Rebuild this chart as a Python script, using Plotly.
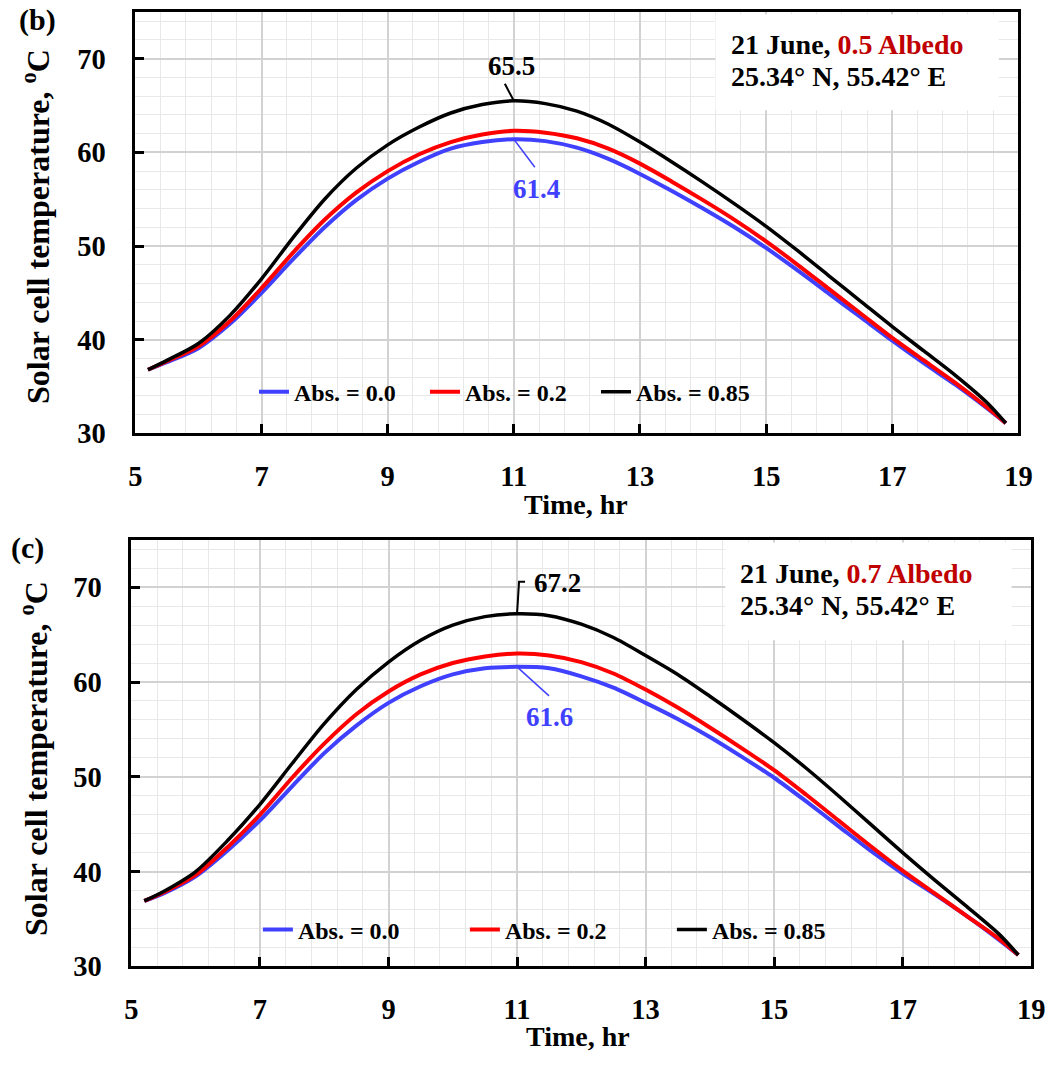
import plotly.graph_objects as go

# ---------------- data ----------------
time_hr = [5.2, 5.5, 6, 6.5, 7, 7.5, 8, 8.5, 9, 9.5, 10, 10.5, 11, 11.5, 12,
           12.5, 13, 13.5, 14, 14.5, 15, 15.5, 16, 16.5, 17, 17.5, 18, 18.5, 18.8]

# (b) 0.5 albedo
b_abs000 = [36.8, 37.6, 39.1, 41.7, 45.0, 48.6, 52.0, 54.9, 57.2, 59.0, 60.4, 61.1, 61.4, 61.2, 60.5,
            59.3, 57.7, 55.9, 54.0, 52.0, 49.8, 47.4, 44.9, 42.4, 39.9, 37.5, 35.2, 32.7, 31.1]
b_abs020 = [36.8, 37.7, 39.3, 42.0, 45.5, 49.3, 52.8, 55.7, 58.0, 59.8, 61.1, 61.9, 62.3, 62.1, 61.5,
            60.4, 58.8, 56.9, 54.9, 52.8, 50.5, 48.0, 45.4, 42.8, 40.2, 37.8, 35.4, 32.8, 31.1]
b_abs085 = [36.8, 37.8, 39.6, 42.6, 46.5, 50.9, 55.0, 58.3, 60.8, 62.7, 64.2, 65.1, 65.5, 65.2, 64.4,
            63.0, 61.1, 59.0, 56.8, 54.5, 52.1, 49.5, 46.8, 44.1, 41.4, 38.8, 36.2, 33.3, 31.1]

# (c) 0.7 albedo
c_abs000 = [36.9, 37.7, 39.5, 42.25, 45.4, 49.0, 52.5, 55.4, 57.8, 59.55, 60.8, 61.45, 61.6, 61.45, 60.6,
            59.4, 57.8, 56.1, 54.2, 52.1, 49.9, 47.4, 44.8, 42.2, 39.8, 37.6, 35.3, 32.8, 31.2]
c_abs020 = [36.9, 37.8, 39.65, 42.6, 46.0, 49.9, 53.5, 56.6, 59.0, 60.8, 62.0, 62.7, 63.0, 62.8, 62.1,
            60.9, 59.2, 57.3, 55.2, 53.0, 50.7, 48.1, 45.4, 42.7, 40.1, 37.7, 35.3, 32.9, 31.2]
c_abs085 = [36.9, 37.9, 40.0, 43.3, 47.1, 51.4, 55.6, 59.2, 62.1, 64.4, 66.0, 66.9, 67.2, 67.0, 66.1,
            64.7, 62.8, 60.8, 58.5, 56.1, 53.6, 50.9, 48.0, 45.0, 42.0, 39.1, 36.3, 33.4, 31.2]

series_names = ["Abs. = 0.0", "Abs. = 0.2", "Abs. = 0.85"]
series_colors = ["#4040FF", "#FF0000", "#000000"]
series_widths = [4, 4, 3.5]

x_ticks = [5, 7, 9, 11, 13, 15, 17, 19]
y_ticks = [30, 40, 50, 60, 70]

# ---------------- layout helpers ----------------
W, H = 1053, 1072
FONT = "Liberation Serif"


def px_x(p):
    return p / W


def px_y(p):
    return 1 - p / H


top_dom_x = [px_x(131), px_x(1032)]
top_dom_y = [px_y(440), px_y(12)]
bot_dom_x = [px_x(127), px_x(1045)]
bot_dom_y = [px_y(981), px_y(548)]

fig = go.Figure()

panels = [
    ("x", "y", "legend", [b_abs000, b_abs020, b_abs085]),
    ("x2", "y2", "legend2", [c_abs000, c_abs020, c_abs085]),
]
for xa, ya, lg, data in panels:
    for name, col, lw, vals in zip(series_names, series_colors, series_widths, data):
        fig.add_trace(go.Scatter(
            x=time_hr, y=vals, mode="lines", name=name,
            line=dict(color=col, width=lw, shape="spline", smoothing=0.8),
            xaxis=xa, yaxis=ya, legend=lg, showlegend=True))


def xaxis_cfg(domain, anchor):
    return dict(domain=domain, anchor=anchor, range=[5, 19], tickvals=x_ticks,
                showline=True, linecolor="black", linewidth=3, mirror=True,
                ticks="inside", ticklen=9, tickwidth=3, tickcolor="black",
                showgrid=True, gridcolor="#d2d2d2", gridwidth=1.5, zeroline=False,
                tickfont=dict(family=FONT, size=28.5, color="black", weight="bold"),
                ticklabelstandoff=15,
                minor=dict(tick0=5, dtick=0.4, showgrid=True, gridcolor="#e8e8e8",
                           gridwidth=1.3, ticks=""))


def yaxis_cfg(domain, anchor):
    return dict(domain=domain, anchor=anchor, range=[30, 75], tickvals=y_ticks,
                showline=True, linecolor="black", linewidth=3, mirror=True,
                ticks="inside", ticklen=9, tickwidth=3, tickcolor="black",
                showgrid=True, gridcolor="#d2d2d2", gridwidth=1.5, zeroline=False,
                tickfont=dict(family=FONT, size=28.5, color="black", weight="bold"),
                ticklabelstandoff=21,
                minor=dict(tick0=30, dtick=2, showgrid=True, gridcolor="#e8e8e8",
                           gridwidth=1.3, ticks=""))


legend_font = dict(family=FONT, size=24, color="black", weight="bold")

fig.update_layout(
    width=W, height=H, autosize=False,
    margin=dict(l=0, r=0, t=0, b=0),
    paper_bgcolor="white", plot_bgcolor="white",
    font=dict(family=FONT, color="black"),
    xaxis=xaxis_cfg(top_dom_x, "y"),
    yaxis=yaxis_cfg(top_dom_y, "x"),
    xaxis2=xaxis_cfg(bot_dom_x, "y2"),
    yaxis2=yaxis_cfg(bot_dom_y, "x2"),
    legend=dict(orientation="h", x=px_x(252), y=px_y(398), xanchor="left", yanchor="middle",
                bgcolor="rgba(0,0,0,0)", font=legend_font, itemwidth=30,
                entrywidth=126, entrywidthmode="pixels", tracegroupgap=0),
    legend2=dict(orientation="h", x=px_x(256), y=px_y(944), xanchor="left", yanchor="middle",
                 bgcolor="rgba(0,0,0,0)", font=legend_font, itemwidth=30,
                 entrywidth=162, entrywidthmode="pixels", tracegroupgap=0),
)

bold = dict(family=FONT, color="black", weight="bold")


def paper_text(txt, x, y, size, angle=0, xanchor="center"):
    return dict(text=txt, x=px_x(x), y=px_y(y), xref="paper", yref="paper",
                xanchor=xanchor, yanchor="middle", showarrow=False, textangle=angle,
                font=dict(size=size, **bold))


annots = []
# axis titles
ytitle = "Solar cell temperature, <sup>o</sup>C"
annots.append(paper_text(ytitle, 29, 230, 32, angle=-90))
annots.append(paper_text(ytitle, 27, 770, 32, angle=-90))
annots.append(paper_text("Time, hr", 581, 512, 28))
annots.append(paper_text("Time, hr", 583, 1052, 28))
# panel labels
annots.append(paper_text("(b)", 31, 20, 30))
annots.append(paper_text("(c)", 21, 556, 30))
# info boxes text
info = [("0.5 Albedo", 737, 45, 78), ("0.7 Albedo", 746, 582, 615)]
for alb, xl, y1, y2 in info:
    annots.append(paper_text("21 June, <span style='color:#C00000'>" + alb + "</span>",
                             xl, y1, 28, xanchor="left"))
    annots.append(paper_text("25.34° N, 55.42° E", xl, y2, 28, xanchor="left"))

shapes = []
# white info boxes
shapes.append(dict(type="rect", xref="x domain", yref="y domain", x0=(723 - 131) / 901,
                   x1=(1012 - 131) / 901, y0=(440 - 112) / 428, y1=0.994,
                   fillcolor="white", line=dict(width=0), layer="above"))
shapes.append(dict(type="rect", xref="x2 domain", yref="y2 domain", x0=(733 - 127) / 918,
                   x1=(1025 - 127) / 918, y0=(981 - 650) / 433, y1=0.994,
                   fillcolor="white", line=dict(width=0), layer="above"))


def peak(vals):
    i = max(range(len(vals)), key=lambda k: vals[k])
    return time_hr[i], vals[i]


# peak labels with leader lines (offsets in pixels from the peak point)
labels = [
    ("x", "y", b_abs085, "65.5", "black", (-2, 35), "M 0,0 L -9,17"),
    ("x", "y", b_abs000, "61.4", "#4040FF", (23, -50), "M 0,0 L 21,-28"),
    ("x2", "y2", c_abs085, "67.2", "black", (40, 31), "M 0,0 L 2,32 L 8,32"),
    ("x2", "y2", c_abs000, "61.6", "#4040FF", (32, -50), "M 0,0 L 32,-29"),
]
for xa, ya, vals, txt, col, (dx, dy), path in labels:
    tp, vp = peak(vals)
    annots.append(dict(text=txt, x=tp, y=vp, xref=xa, yref=ya, showarrow=False,
                       xanchor="center", yanchor="middle", xshift=dx, yshift=dy,
                       font=dict(family=FONT, size=27, color=col, weight="bold")))
    shapes.append(dict(type="path", xref=xa, yref=ya, xsizemode="pixel", ysizemode="pixel",
                       xanchor=tp, yanchor=vp, path=path,
                       line=dict(color=col, width=1.5 if col != "black" else 2)))

fig.update_layout(annotations=annots, shapes=shapes)
fig.write_html("out.html")
